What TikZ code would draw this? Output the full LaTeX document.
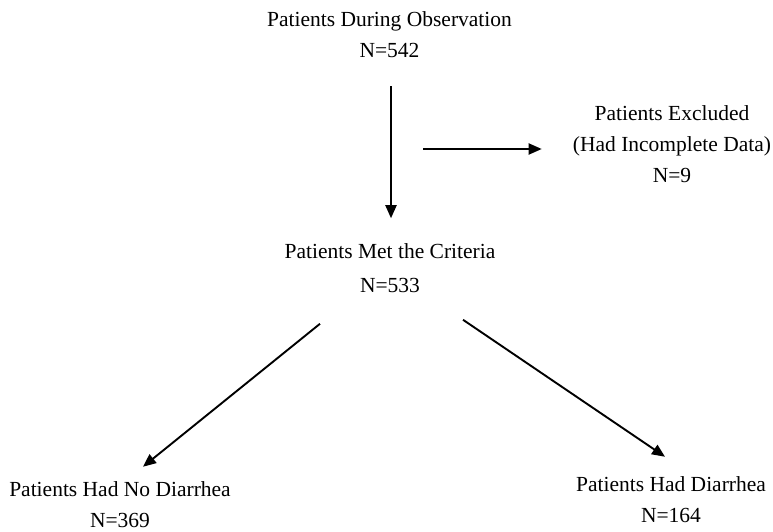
\documentclass[tikz,border=0pt]{standalone}
\usepackage{fontspec}
\setmainfont{Liberation Serif}
\usetikzlibrary{arrows.meta,positioning,calc}

\begin{document}
\begin{tikzpicture}[x=1pt,y=-1pt,
  txt/.style={align=center,inner sep=0pt,font=\fontsize{21.5}{31}\selectfont},
  flow/.style={line width=1.9pt,-{Triangle[length=13pt,width=11pt]}}]
  \useasboundingbox (0,0) rectangle (773,532); % 図全体の範囲
  \node[txt] (obs) at (389.5,35) {Patients During Observation\\N=542}; % 観察期間中の患者
  \node[txt] (excl) at (672,144) {Patients Excluded\\(Had Incomplete Data)\\N=9}; % 除外された患者
  \node[txt] (met) at (390,268) {Patients Met the Criteria\\[3pt]N=533}; % 基準を満たした患者
  \node[txt] (noD) at (120,505) {Patients Had No Diarrhea\\N=369}; % 下痢なし
  \node[txt] (yesD) at (671,500) {Patients Had Diarrhea\\N=164}; % 下痢あり
  \coordinate (split) at (423,149); % 除外への矢印の始点
  \draw[flow] ([xshift=1.5pt,yshift=-28pt]obs.south) -- ([xshift=1pt,yshift=25pt]met.north); % 縦の矢印
  \draw[flow,shorten >=31pt] (split) -- (split -| excl.west); % 除外への矢印
  \draw[flow] ([xshift=-70pt,yshift=-31pt]met.south) -- ([xshift=23pt,yshift=15pt]noD.north); % 左下への矢印
  \draw[flow] ([xshift=73pt,yshift=-27pt]met.south) -- ([xshift=-6pt,yshift=20pt]yesD.north); % 右下への矢印
\end{tikzpicture}
\end{document}
